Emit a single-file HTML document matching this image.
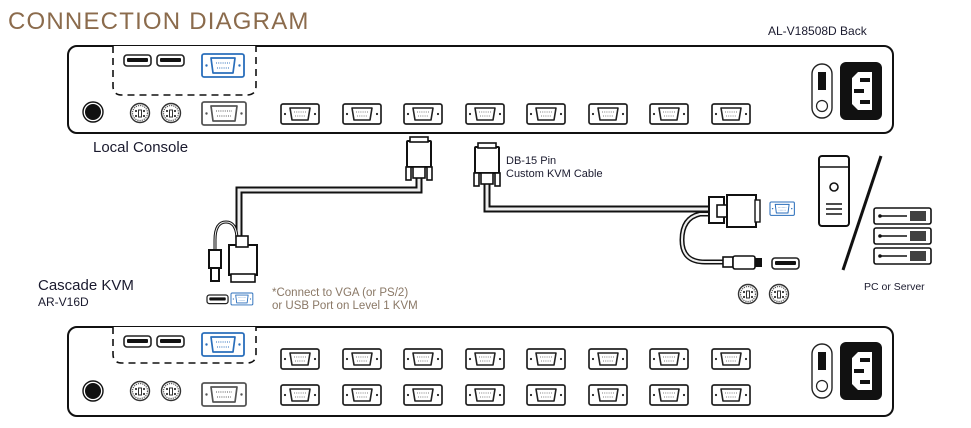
<!DOCTYPE html>
<html><head><meta charset="utf-8"><style>
html,body{margin:0;padding:0;background:#fff;width:971px;height:428px;overflow:hidden}
svg{display:block;font-family:"Liberation Sans",sans-serif}
</style></head><body>
<svg width="971" height="428" viewBox="0 0 971 428" xmlns="http://www.w3.org/2000/svg">
<defs>
<g id="db"><rect x="0" y="0" width="38" height="20" rx="2" fill="#fff" stroke="#222" stroke-width="1.7"/><path d="M9 4 H29 L27 16 H11 Z" fill="#fff" stroke="#222" stroke-width="1.6" stroke-linejoin="round"/><circle cx="4" cy="10" r="1.1" fill="#222"/><circle cx="34" cy="10" r="1.1" fill="#222"/><path d="M13 8 H25 M14 12 H24" stroke="#555" stroke-width="0.8" stroke-dasharray="1 1.2"/></g>
<g id="vgab"><rect x="0" y="0" width="42" height="23" rx="2" fill="#fff" stroke="#2a6ebb" stroke-width="1.8"/><path d="M9 4 H33 L31 19 H11 Z" fill="#fff" stroke="#2a6ebb" stroke-width="1.7" stroke-linejoin="round"/><circle cx="4.5" cy="11.5" r="1.2" fill="#2a6ebb"/><circle cx="37.5" cy="11.5" r="1.2" fill="#2a6ebb"/><path d="M14 9 H28 M15 14 H27" stroke="#2a6ebb" stroke-width="0.9" stroke-dasharray="1 1.2"/></g>
<g id="vgag"><rect x="0" y="0" width="44" height="23" rx="2" fill="#fff" stroke="#555" stroke-width="1.8"/><path d="M9 4 H35 L33 19 H11 Z" fill="#fff" stroke="#555" stroke-width="1.7" stroke-linejoin="round"/><circle cx="4.5" cy="11.5" r="1.2" fill="#555"/><circle cx="39.5" cy="11.5" r="1.2" fill="#555"/><path d="M14 9 H30 M15 14 H29" stroke="#555" stroke-width="0.9" stroke-dasharray="1 1.2"/></g>
<g id="usb"><rect x="0" y="0" width="27" height="11" rx="3" fill="#fff" stroke="#222" stroke-width="1.6"/><rect x="3" y="3" width="21" height="4" rx="1" fill="#111"/></g>
<g id="ps2"><circle cx="0" cy="0" r="9.5" fill="#fff" stroke="#333" stroke-width="1.4"/><circle cx="0" cy="0" r="7.5" fill="none" stroke="#555" stroke-width="1.2" stroke-dasharray="1.2 1"/><rect x="-1.5" y="-3" width="3" height="7" fill="none" stroke="#333" stroke-width="1"/><circle cx="-4" cy="-2" r="1.1" fill="#333"/><circle cx="4" cy="-2" r="1.1" fill="#333"/><circle cx="-4" cy="3" r="1.1" fill="#333"/><circle cx="4" cy="3" r="1.1" fill="#333"/></g>
<g id="pwr"><rect x="0" y="0" width="20" height="54" rx="10" fill="#fff" stroke="#222" stroke-width="1.4"/><rect x="6" y="8" width="8" height="18" fill="#111"/><circle cx="10" cy="42" r="5.5" fill="#fff" stroke="#222" stroke-width="1.2"/>
<rect x="28" y="-2" width="42" height="58" rx="6" fill="#111"/><path d="M37 8 H60 V46 H37 Z" fill="#fff"/><path d="M37 8 H46 L40 14 V40 L46 46 H37 Z" fill="#111"/><rect x="48" y="14" width="10" height="4" fill="#111"/><rect x="42" y="25" width="10" height="4" fill="#111"/><rect x="48" y="36" width="10" height="4" fill="#111"/></g>
<g id="cableconn"><rect x="-12" y="0" width="24" height="26" rx="1" fill="#fff" stroke="#111" stroke-width="2"/><rect x="-9" y="-4" width="18" height="5" fill="#fff" stroke="#111" stroke-width="1.6"/><rect x="-13" y="26" width="5" height="13" fill="#fff" stroke="#111" stroke-width="1.6"/><rect x="8" y="26" width="5" height="13" fill="#fff" stroke="#111" stroke-width="1.6"/><rect x="-6" y="26" width="12" height="11" fill="#fff" stroke="#111" stroke-width="1.6"/></g>
</defs>

<text x="8" y="29" font-size="24" fill="#8b6b4c" letter-spacing="1.2">CONNECTION DIAGRAM</text>
<text x="768" y="35" font-size="12" fill="#1a1a2e">AL-V18508D Back</text>

<!-- Top panel -->
<rect x="68" y="46" width="825" height="87" rx="9" fill="#fff" stroke="#111" stroke-width="2"/>
<path d="M113 46 V86 Q113 95 122 95 H247 Q256 95 256 86 V46" fill="#fff" stroke="#111" stroke-width="1.6" stroke-dasharray="7 5"/>
<use href="#usb" x="124" y="55"/><use href="#usb" x="157" y="55"/>
<use href="#vgab" x="202" y="54"/>
<circle cx="93" cy="112" r="8" fill="#111"/><circle cx="93" cy="112" r="10" fill="none" stroke="#111" stroke-width="1.4"/>
<use href="#ps2" x="140" y="113"/><use href="#ps2" x="171" y="113"/>
<use href="#vgag" x="202" y="102"/>
<use href="#db" x="281" y="104"/><use href="#db" x="343" y="104"/><use href="#db" x="404" y="104"/><use href="#db" x="466" y="104"/><use href="#db" x="527" y="104"/><use href="#db" x="589" y="104"/><use href="#db" x="650" y="104"/><use href="#db" x="712" y="104"/>
<use href="#pwr" x="812" y="64"/>
<text x="93" y="152" font-size="15" fill="#1a1a2e">Local Console</text>

<!-- Cable 1 -->
<path d="M419 178 V190 H239 V240" fill="none" stroke="#111" stroke-width="7"/>
<path d="M419 178 V190 H239 V240" fill="none" stroke="#eee" stroke-width="3"/>
<use href="#cableconn" x="419" y="141"/>
<path d="M237 240 Q237 222 226 222 Q215 222 215 240 V250" fill="none" stroke="#111" stroke-width="3"/>
<path d="M237 240 Q237 222 226 222 Q215 222 215 240 V250" fill="none" stroke="#eee" stroke-width="1"/>
<rect x="209" y="250" width="12" height="18" fill="#fff" stroke="#111" stroke-width="2"/>
<rect x="211" y="268" width="8" height="13" fill="#fff" stroke="#111" stroke-width="2"/>
<rect x="229" y="245" width="28" height="30" fill="#fff" stroke="#111" stroke-width="2"/>
<rect x="236" y="236" width="12" height="11" fill="#fff" stroke="#111" stroke-width="1.6"/>
<rect x="231" y="274" width="24" height="8" fill="#fff" stroke="#111" stroke-width="1.6"/>
<g transform="translate(207,295) scale(0.78)"><use href="#usb"/></g>
<g transform="translate(231,293) scale(0.52)"><use href="#vgab"/></g>
<text x="272" y="296" font-size="11.5" fill="#8a7866">*Connect to VGA (or PS/2)</text>
<text x="272" y="309" font-size="11.5" fill="#8a7866">or USB Port on Level 1 KVM</text>

<text x="38" y="290" font-size="15" fill="#1a1a2e">Cascade KVM</text>
<text x="38" y="306" font-size="12" fill="#1a1a2e">AR-V16D</text>

<!-- Cable 2 -->
<path d="M487 183 V209 H715" fill="none" stroke="#111" stroke-width="7"/>
<path d="M487 183 V209 H715" fill="none" stroke="#eee" stroke-width="3"/>
<use href="#cableconn" x="487" y="147"/>
<text x="506" y="164" font-size="11" fill="#1a1a2e">DB-15 Pin</text>
<text x="506" y="177" font-size="11" fill="#1a1a2e">Custom KVM Cable</text>
<path d="M712 214 H700 Q682 218 682 240 Q682 262 705 262 H724" fill="none" stroke="#111" stroke-width="5"/>
<path d="M712 214 H700 Q682 218 682 240 Q682 262 705 262 H724" fill="none" stroke="#eee" stroke-width="2"/>
<rect x="709" y="197" width="15" height="26" fill="#fff" stroke="#111" stroke-width="2"/>
<rect x="717" y="205" width="12" height="12" fill="#fff" stroke="#111" stroke-width="1.6"/>
<rect x="727" y="195" width="29" height="32" fill="#fff" stroke="#111" stroke-width="2"/>
<rect x="755" y="200" width="5" height="22" fill="#fff" stroke="#111" stroke-width="1.4"/>
<g transform="translate(770,202) scale(0.58)"><use href="#vgab"/></g>
<rect x="723" y="257" width="10" height="10" fill="#fff" stroke="#111" stroke-width="1.6"/>
<rect x="733" y="256" width="22" height="13" rx="2" fill="#fff" stroke="#111" stroke-width="1.6"/>
<rect x="755" y="258" width="7" height="9" fill="#111"/>
<use href="#usb" x="772" y="258"/>
<use href="#ps2" x="748" y="294"/><use href="#ps2" x="779" y="294"/>

<!-- PC / server -->
<rect x="819" y="156" width="30" height="70" rx="3" fill="#fff" stroke="#111" stroke-width="2"/>
<path d="M819 167 H849" stroke="#111" stroke-width="1.6"/>
<circle cx="834" cy="187" r="4" fill="#fff" stroke="#111" stroke-width="1.6"/>
<path d="M826 204 H842 M826 209 H842 M826 214 H842" stroke="#111" stroke-width="1.6"/>
<path d="M881 156 L843 270" stroke="#111" stroke-width="3"/>
<g fill="#fff" stroke="#111" stroke-width="1.6">
<rect x="874" y="208" width="57" height="16" rx="2"/><rect x="874" y="228" width="57" height="16" rx="2"/><rect x="874" y="248" width="57" height="16" rx="2"/>
</g>
<g stroke="#111" stroke-width="1.4"><path d="M880 216 H907 M880 236 H907 M880 256 H907"/></g>
<g fill="#111"><circle cx="880" cy="216" r="1.8"/><circle cx="880" cy="236" r="1.8"/><circle cx="880" cy="256" r="1.8"/>
<rect x="910" y="211" width="16" height="10" opacity="0.8"/><rect x="910" y="231" width="16" height="10" opacity="0.8"/><rect x="910" y="251" width="16" height="10" opacity="0.8"/></g>
<text x="864" y="290" font-size="10.5" fill="#1a1a2e">PC or Server</text>

<!-- Bottom panel -->
<rect x="68" y="327" width="825" height="89" rx="9" fill="#fff" stroke="#111" stroke-width="2"/>
<path d="M113 327 V354 Q113 363 122 363 H247 Q256 363 256 354 V327" fill="#fff" stroke="#111" stroke-width="1.6" stroke-dasharray="7 5"/>
<use href="#usb" x="124" y="336"/><use href="#usb" x="157" y="336"/>
<use href="#vgab" x="202" y="333"/>
<circle cx="93" cy="391" r="8" fill="#111"/><circle cx="93" cy="391" r="10" fill="none" stroke="#111" stroke-width="1.4"/>
<use href="#ps2" x="140" y="391"/><use href="#ps2" x="171" y="391"/>
<use href="#vgag" x="202" y="383"/>
<use href="#db" x="281" y="349"/><use href="#db" x="343" y="349"/><use href="#db" x="404" y="349"/><use href="#db" x="466" y="349"/><use href="#db" x="527" y="349"/><use href="#db" x="589" y="349"/><use href="#db" x="650" y="349"/><use href="#db" x="712" y="349"/>
<use href="#db" x="281" y="385"/><use href="#db" x="343" y="385"/><use href="#db" x="404" y="385"/><use href="#db" x="466" y="385"/><use href="#db" x="527" y="385"/><use href="#db" x="589" y="385"/><use href="#db" x="650" y="385"/><use href="#db" x="712" y="385"/>
<use href="#pwr" x="812" y="344"/>
</svg>
</body></html>
